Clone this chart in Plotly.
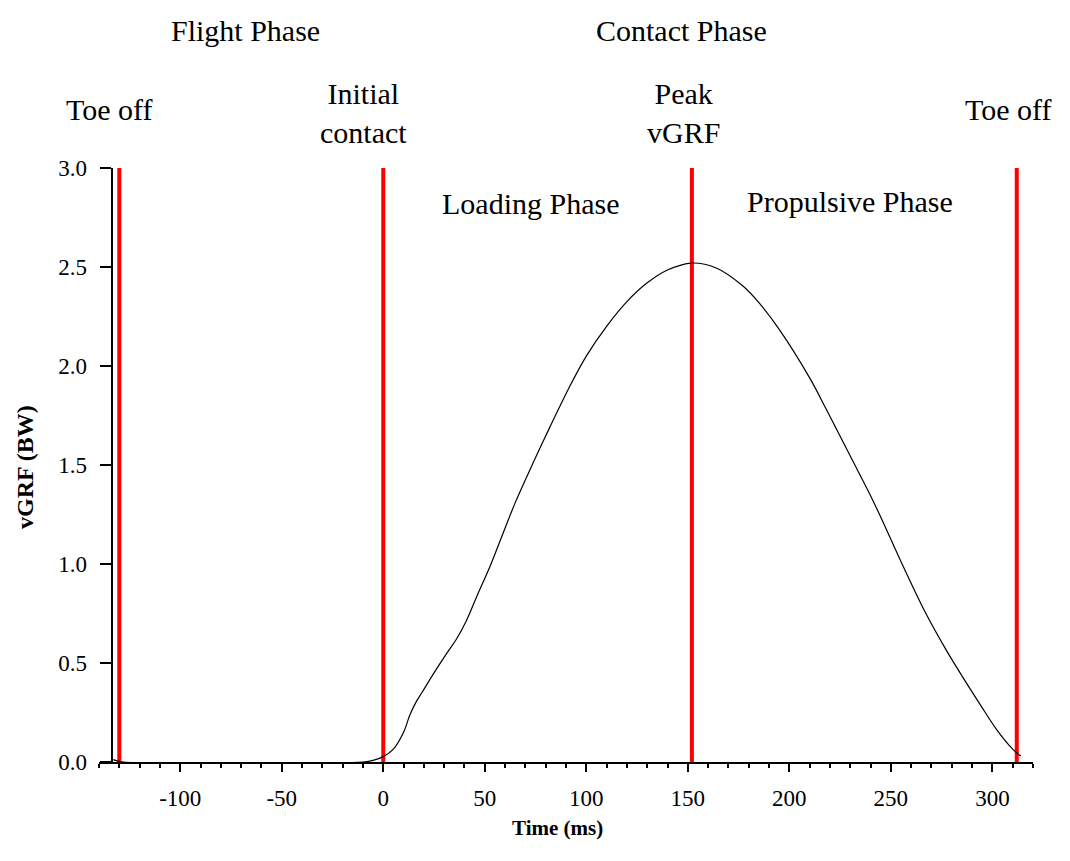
import plotly.graph_objects as go

# Vertical ground reaction force over one stride (time relative to initial contact)
time_ms = [-133, -128, -10, -5, 0, 5, 10, 13, 16, 19, 25, 31, 36, 41, 46, 52.5, 59, 65,
           74, 82, 92, 100, 110, 120, 130, 140, 152, 164, 177, 185, 195, 210,
           218, 230, 240, 246, 256, 267, 277, 285, 294, 302, 310, 314]
vgrf_bw = [0.012, 0.0, 0.0, 0.008, 0.027, 0.065, 0.15, 0.235, 0.30, 0.35, 0.45, 0.545,
           0.62, 0.715, 0.835, 0.986, 1.155, 1.31, 1.515, 1.69, 1.90, 2.05, 2.20, 2.325,
           2.42, 2.485, 2.52, 2.495, 2.405, 2.32, 2.185, 1.94, 1.785, 1.545, 1.345,
           1.215, 0.99, 0.755, 0.57, 0.435, 0.29, 0.165, 0.065, 0.03]

# Gait events (ms)
event_ms = [-130, 0, 152, 312]
event_names = ["Toe off", "Initial<br>contact", "Peak<br>vGRF", "Toe off"]

x_tick_vals = [-100, -50, 0, 50, 100, 150, 200, 250, 300]
x_tick_text = ["-100", "-50", "0", "50", "100", "150", "200", "250", "300"]
y_tick_vals = [0.0, 0.5, 1.0, 1.5, 2.0, 2.5, 3.0]

FONT = "Liberation Serif, Times New Roman, serif"
W, H = 1070, 861
ML, MR, MT, MB = 99, 37, 168, 99
PW = W - ML - MR
PH = H - MT - MB


def paper_y(py):
    return (H - MB - py) / PH


fig = go.Figure()

for t in event_ms:
    fig.add_trace(go.Scatter(x=[t, t], y=[0, 3.0], mode="lines",
                             line=dict(color="#ff0000", width=4),
                             hoverinfo="skip", showlegend=False))

fig.add_trace(go.Scatter(x=time_ms, y=vgrf_bw, mode="lines",
                         line=dict(color="black", width=1.2, shape="spline", smoothing=1.0),
                         showlegend=False))

annotations = []
# event labels above the plot
label_offsets = [-5, -9.5, -4, -4.5]
label_rows = [110, 113, 113, 110]
for t, name, off, row in zip(event_ms, event_names, label_offsets, label_rows):
    annotations.append(dict(x=t + off, y=paper_y(row), xref="x", yref="paper",
                            text=name, showarrow=False, xanchor="center", yanchor="middle",
                            font=dict(family=FONT, size=30, color="black")))

phase_labels = [
    ("Flight Phase", -68, 30),
    ("Contact Phase", 147, 30),
    ("Loading Phase", 72.6, 204),
    ("Propulsive Phase", 229.7, 201),
]
for text, t, row in phase_labels:
    annotations.append(dict(x=t, y=paper_y(row), xref="x", yref="paper",
                            text=text, showarrow=False, xanchor="center", yanchor="middle",
                            font=dict(family=FONT, size=30, color="black")))

annotations.append(dict(x=(557 - ML) / PW, y=paper_y(828), xref="paper", yref="paper",
                        text="<b>Time (ms)</b>", showarrow=False,
                        xanchor="center", yanchor="middle",
                        font=dict(family=FONT, size=21, color="black")))
annotations.append(dict(x=(25 - ML) / PW, y=paper_y(467), xref="paper", yref="paper",
                        text="<b>vGRF (BW)</b>", showarrow=False, textangle=-90,
                        xanchor="center", yanchor="middle",
                        font=dict(family=FONT, size=24, color="black")))

fig.update_layout(
    width=W, height=H,
    margin=dict(l=ML, r=MR, t=MT, b=MB, autoexpand=False),
    paper_bgcolor="white", plot_bgcolor="white",
    showlegend=False,
    annotations=annotations,
    xaxis=dict(range=[-140, 320], showgrid=False, zeroline=False,
               showline=True, linecolor="black", linewidth=2,
               ticks="outside", ticklen=8, tickwidth=2, tickcolor="black",
               tickmode="array", tickvals=x_tick_vals, ticktext=x_tick_text,
               tickfont=dict(family=FONT, size=23, color="black"),
               ticklabelstandoff=6,
               minor=dict(tickmode="linear", tick0=0, dtick=10, ticks="outside",
                          ticklen=4, tickwidth=2, tickcolor="black")),
    yaxis=dict(range=[0, 3.0], showgrid=False, zeroline=False,
               anchor="free", position=(111.7 - ML) / PW,
               showline=True, linecolor="black", linewidth=2,
               ticks="outside", ticklen=11, tickwidth=2, tickcolor="black",
               tickmode="array", tickvals=y_tick_vals, tickformat=".1f",
               tickfont=dict(family=FONT, size=23, color="black"),
               ticklabelstandoff=8),
)

fig.write_html("out.html")
